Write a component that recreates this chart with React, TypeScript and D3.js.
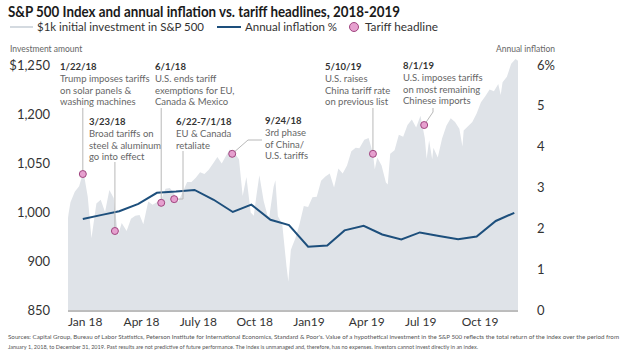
import React from 'react';
import * as d3 from 'd3';

// $1k invested in the S&P 500 (total return)
const sp500: [string, number][] = [
  ['2018-01-01', 1000], ['2018-01-02', 1008], ['2018-01-05', 1026], ['2018-01-12', 1043], ['2018-01-19', 1052],
  ['2018-01-26', 1076], ['2018-02-02', 1035], ['2018-02-08', 967], ['2018-02-16', 1024], ['2018-02-23', 1030],
  ['2018-03-02', 1010], ['2018-03-09', 1046], ['2018-03-16', 1033], ['2018-03-23', 972], ['2018-03-29', 992],
  ['2018-04-06', 979], ['2018-04-13', 999], ['2018-04-20', 1004], ['2018-04-27', 1005], ['2018-05-03', 990],
  ['2018-05-11', 1027], ['2018-05-18', 1022], ['2018-05-25', 1026], ['2018-06-01', 1031], ['2018-06-08', 1048],
  ['2018-06-15', 1049], ['2018-06-22', 1040], ['2018-06-28', 1026], ['2018-07-06', 1043], ['2018-07-13', 1059],
  ['2018-07-20', 1059], ['2018-07-27', 1066], ['2018-08-03', 1075], ['2018-08-10', 1072], ['2018-08-17', 1079],
  ['2018-08-24', 1089], ['2018-08-31', 1100], ['2018-09-07', 1089], ['2018-09-14', 1102], ['2018-09-20', 1112],
  ['2018-09-28', 1106], ['2018-10-05', 1096], ['2018-10-11', 1036], ['2018-10-17', 1067], ['2018-10-24', 1009],
  ['2018-10-29', 1004], ['2018-11-02', 1035], ['2018-11-07', 1070], ['2018-11-14', 1028], ['2018-11-20', 1005],
  ['2018-11-23', 1002], ['2018-11-30', 1051], ['2018-12-03', 1062], ['2018-12-07', 1003], ['2018-12-14', 991],
  ['2018-12-21', 921], ['2018-12-24', 896], ['2018-12-28', 948], ['2018-12-31', 956],
  ['2019-01-04', 966], ['2019-01-11', 990], ['2019-01-18', 1020], ['2019-01-25', 1018], ['2019-02-01', 1034],
  ['2019-02-08', 1035], ['2019-02-15', 1061], ['2019-02-22', 1068], ['2019-03-01', 1073], ['2019-03-08', 1050],
  ['2019-03-15', 1081], ['2019-03-22', 1073], ['2019-03-29', 1086], ['2019-04-05', 1109], ['2019-04-12', 1115],
  ['2019-04-18', 1114], ['2019-04-26', 1128], ['2019-05-03', 1131], ['2019-05-10', 1106], ['2019-05-13', 1080],
  ['2019-05-17', 1099], ['2019-05-24', 1086], ['2019-05-31', 1058], ['2019-06-03', 1055], ['2019-06-07', 1105],
  ['2019-06-14', 1111], ['2019-06-21', 1136], ['2019-06-28', 1133], ['2019-07-05', 1152], ['2019-07-12', 1161],
  ['2019-07-19', 1148], ['2019-07-26', 1167], ['2019-08-02', 1131], ['2019-08-05', 1097], ['2019-08-09', 1127],
  ['2019-08-14', 1096], ['2019-08-16', 1115], ['2019-08-23', 1099], ['2019-08-30', 1130], ['2019-09-06', 1151],
  ['2019-09-13', 1163], ['2019-09-20', 1157], ['2019-09-27', 1146], ['2019-10-02', 1117], ['2019-10-04', 1143],
  ['2019-10-11', 1150], ['2019-10-18', 1157], ['2019-10-25', 1171], ['2019-11-01', 1189], ['2019-11-08', 1199],
  ['2019-11-15', 1210], ['2019-11-22', 1207], ['2019-11-29', 1219], ['2019-12-03', 1201], ['2019-12-06', 1222],
  ['2019-12-13', 1231], ['2019-12-20', 1252], ['2019-12-27', 1260], ['2019-12-31', 1257],
];

// annual inflation %, one per month Jan 2018 - Dec 2019
const inflationMonths = d3.timeMonths(new Date(2018, 0, 1), new Date(2020, 0, 1));
const inflation = [
  2.23, 2.33, 2.42, 2.6, 2.87, 2.9, 2.94, 2.7, 2.4, 2.58, 2.21, 2.08,
  1.55, 1.58, 1.95, 2.06, 1.85, 1.73, 1.9, 1.81, 1.73, 1.8, 2.18, 2.38,
];

const headlineDates = ['2018-01-25', '2018-03-18', '2018-06-01', '2018-06-22', '2018-09-24', '2019-05-10', '2019-08-01'];
const headlineValues = [1072, 979, 1025, 1031, 1105, 1105, 1152];
const headlineTitles = ['1/22/18', '3/23/18', '6/1/18', '6/22-7/1/18', '9/24/18', '5/10/19', '8/1/19'];
const headlineText = [
  ['Trump imposes tariffs', 'on solar panels &', 'washing machines'],
  ['Broad tariffs on', 'steel & aluminum', 'go into effect'],
  ['U.S. ends tariff', 'exemptions for EU,', 'Canada & Mexico'],
  ['EU & Canada', 'retaliate'],
  ['3rd phase', 'of China/', 'U.S. tariffs'],
  ['U.S. raises', 'China tariff rate', 'on previous list'],
  ['U.S. imposes tariffs', 'on most remaining', 'Chinese imports'],
];

const leftTicks = ['$1,250', '1,200', '1,050', '1,000', '900', '850'];
const rightTicks = ['0', '1', '2', '3', '4', '5', '6%'];
const xTickMonths = ['2018-01-01', '2018-04-01', '2018-07-01', '2018-10-01', '2019-01-01', '2019-04-01', '2019-07-01', '2019-10-01'];
const xTickLabels = ['Jan 18', 'Apr 18', 'July 18', 'Oct 18', 'Jan19', 'Apr 19', 'Jul 19', 'Oct 19'];

// text block position; "top" = vertical leader from that y down to the dot, "bend" = extra leader points
const labelLayout: { x: number; y: number; top?: number; bend?: number[][] }[] = [
  { x: 60, y: 67, top: 108 },
  { x: 89, y: 122, top: 162 },
  { x: 155, y: 67, top: 108 },
  { x: 176, y: 122, bend: [[183, 151], [183, 199]] },
  { x: 265, y: 121, bend: [[262, 140], [248, 140]] },
  { x: 325, y: 67, top: 108 },
  { x: 403, y: 66, bend: [[433, 108], [433, 112]] },
];

const parse = d3.timeParse('%Y-%m-%d');
const FONT = 'Lato, "Noto Sans", sans-serif';
const AREA = '#dfe3e8';
const LINE = '#1d4f7c';
const DOT_FILL = '#e6a0cf';
const DOT_STROKE = '#a0457f';

export default function App() {
  const width = 624;
  const height = 360;
  const left = 68;
  const right = 518;
  const top = 65;
  const bottom = 310;

  const x = d3.scaleTime().domain([new Date(2018, 0, 1), new Date(2019, 11, 31)]).range([left, right]);
  const yL = d3.scaleLinear().domain([850, 1250]).range([bottom, top]);
  const yR = d3.scaleLinear().domain([0, 6]).range([bottom, top]);

  const spData = sp500.map(([d, v]) => ({ date: parse(d)!, value: v }));
  const area = d3.area<{ date: Date; value: number }>()
    .x((d) => x(d.date))
    .y0(bottom)
    .y1((d) => yL(d.value));

  const infData = inflation.map((v, i) => ({ date: d3.timeDay.offset(inflationMonths[i], 24), value: v }));
  const line = d3.line<{ date: Date; value: number }>()
    .x((d) => x(d.date))
    .y((d) => yR(d.value));

  const dots = headlineDates.map((d, i) => ({ cx: x(parse(d)!), cy: yL(headlineValues[i]) }));

  return (
    <div style={{ position: 'absolute', left: 0, top: 0 }}>
      <svg width={width} height={height} style={{ display: 'block', background: '#fff', fontFamily: FONT }}>
        <text x={8} y={17} fontSize={14.2} fontWeight={700} fill="#1a1a1a" textLength={392} lengthAdjust="spacingAndGlyphs">
          S&amp;P 500 Index and annual inflation vs. tariff headlines, 2018-2019
        </text>

        {/* legend */}
        <line x1={10} x2={33} y1={27} y2={27} stroke="#d4dae0" strokeWidth={2} />
        <text x={37} y={31} fontSize={12} fill="#333" textLength={167} lengthAdjust="spacingAndGlyphs">$1k initial investment in S&amp;P 500</text>
        <line x1={217} x2={241} y1={27} y2={27} stroke={LINE} strokeWidth={2} />
        <text x={245} y={31} fontSize={12} fill="#333" textLength={92} lengthAdjust="spacingAndGlyphs">Annual inflation %</text>
        <circle cx={354} cy={27} r={4.5} fill={DOT_FILL} stroke={DOT_STROKE} strokeWidth={1} />
        <text x={365} y={31} fontSize={12} fill="#333" textLength={73} lengthAdjust="spacingAndGlyphs">Tariff headline</text>

        <text x={10} y={52} fontSize={8.5} fill="#666">Investment amount</text>
        <text x={555} y={52} fontSize={8.5} fill="#666" textAnchor="end">Annual inflation</text>

        <path d={area(spData) ?? ''} fill={AREA} />
        <line x1={left} x2={right} y1={bottom + 1} y2={bottom + 1} stroke="#7a7a7a" strokeWidth={1} />

        {leftTicks.map((t, i) => (
          <text key={t} x={50} y={yL(1250 - i * 80)} dy="0.35em" fontSize={13} fill="#333" textAnchor="end">{t}</text>
        ))}
        {rightTicks.map((t, i) => (
          <text key={t} x={537} y={yR(i)} dy="0.35em" fontSize={13} fill="#333">{t}</text>
        ))}
        {xTickMonths.map((m, i) => (
          <text key={m} x={x(parse(m)!)} y={326} fontSize={12} fill="#333">{xTickLabels[i]}</text>
        ))}

        <path d={line(infData) ?? ''} fill="none" stroke={LINE} strokeWidth={2} />

        {/* headlines */}
        {headlineTitles.map((title, i) => {
          const lay = labelLayout[i];
          const { cx, cy } = dots[i];
          const pts = lay.top !== undefined ? [[cx, lay.top], [cx, cy]] : [...(lay.bend ?? []), [cx, cy]];
          return (
            <g key={title}>
              <polyline points={pts.map((p) => p.join(',')).join(' ')} fill="none" stroke="#b8b8b8" strokeWidth={1} />
              <text x={lay.x} y={lay.y} dy="0.35em" fontSize={9.5} fontWeight={700} fill="#333">{title}</text>
              {headlineText[i].map((t, j) => (
                <text key={t} x={lay.x} y={lay.y + 11.7 * (j + 1)} dy="0.35em" fontSize={9.5} fill="#666">{t}</text>
              ))}
              <circle cx={cx} cy={cy} r={3.5} fill={DOT_FILL} stroke={DOT_STROKE} strokeWidth={1} />
            </g>
          );
        })}

        <text x={8} y={339} fontSize={5.95} fill="#555" textLength={611} lengthAdjust="spacingAndGlyphs">
          Sources: Capital Group, Bureau of Labor Statistics, Peterson Institute for International Economics, Standard &amp; Poor's. Value of a hypothetical investment in the S&amp;P 500 reflects the total return of the index over the period from
        </text>
        <text x={8} y={349} fontSize={5.95} fill="#555" textLength={470} lengthAdjust="spacingAndGlyphs">
          January 1, 2018, to December 31, 2019. Past results are not predictive of future performance. The index is unmanaged and, therefore, has no expenses. Investors cannot invest directly in an index.
        </text>
      </svg>
    </div>
  );
}
